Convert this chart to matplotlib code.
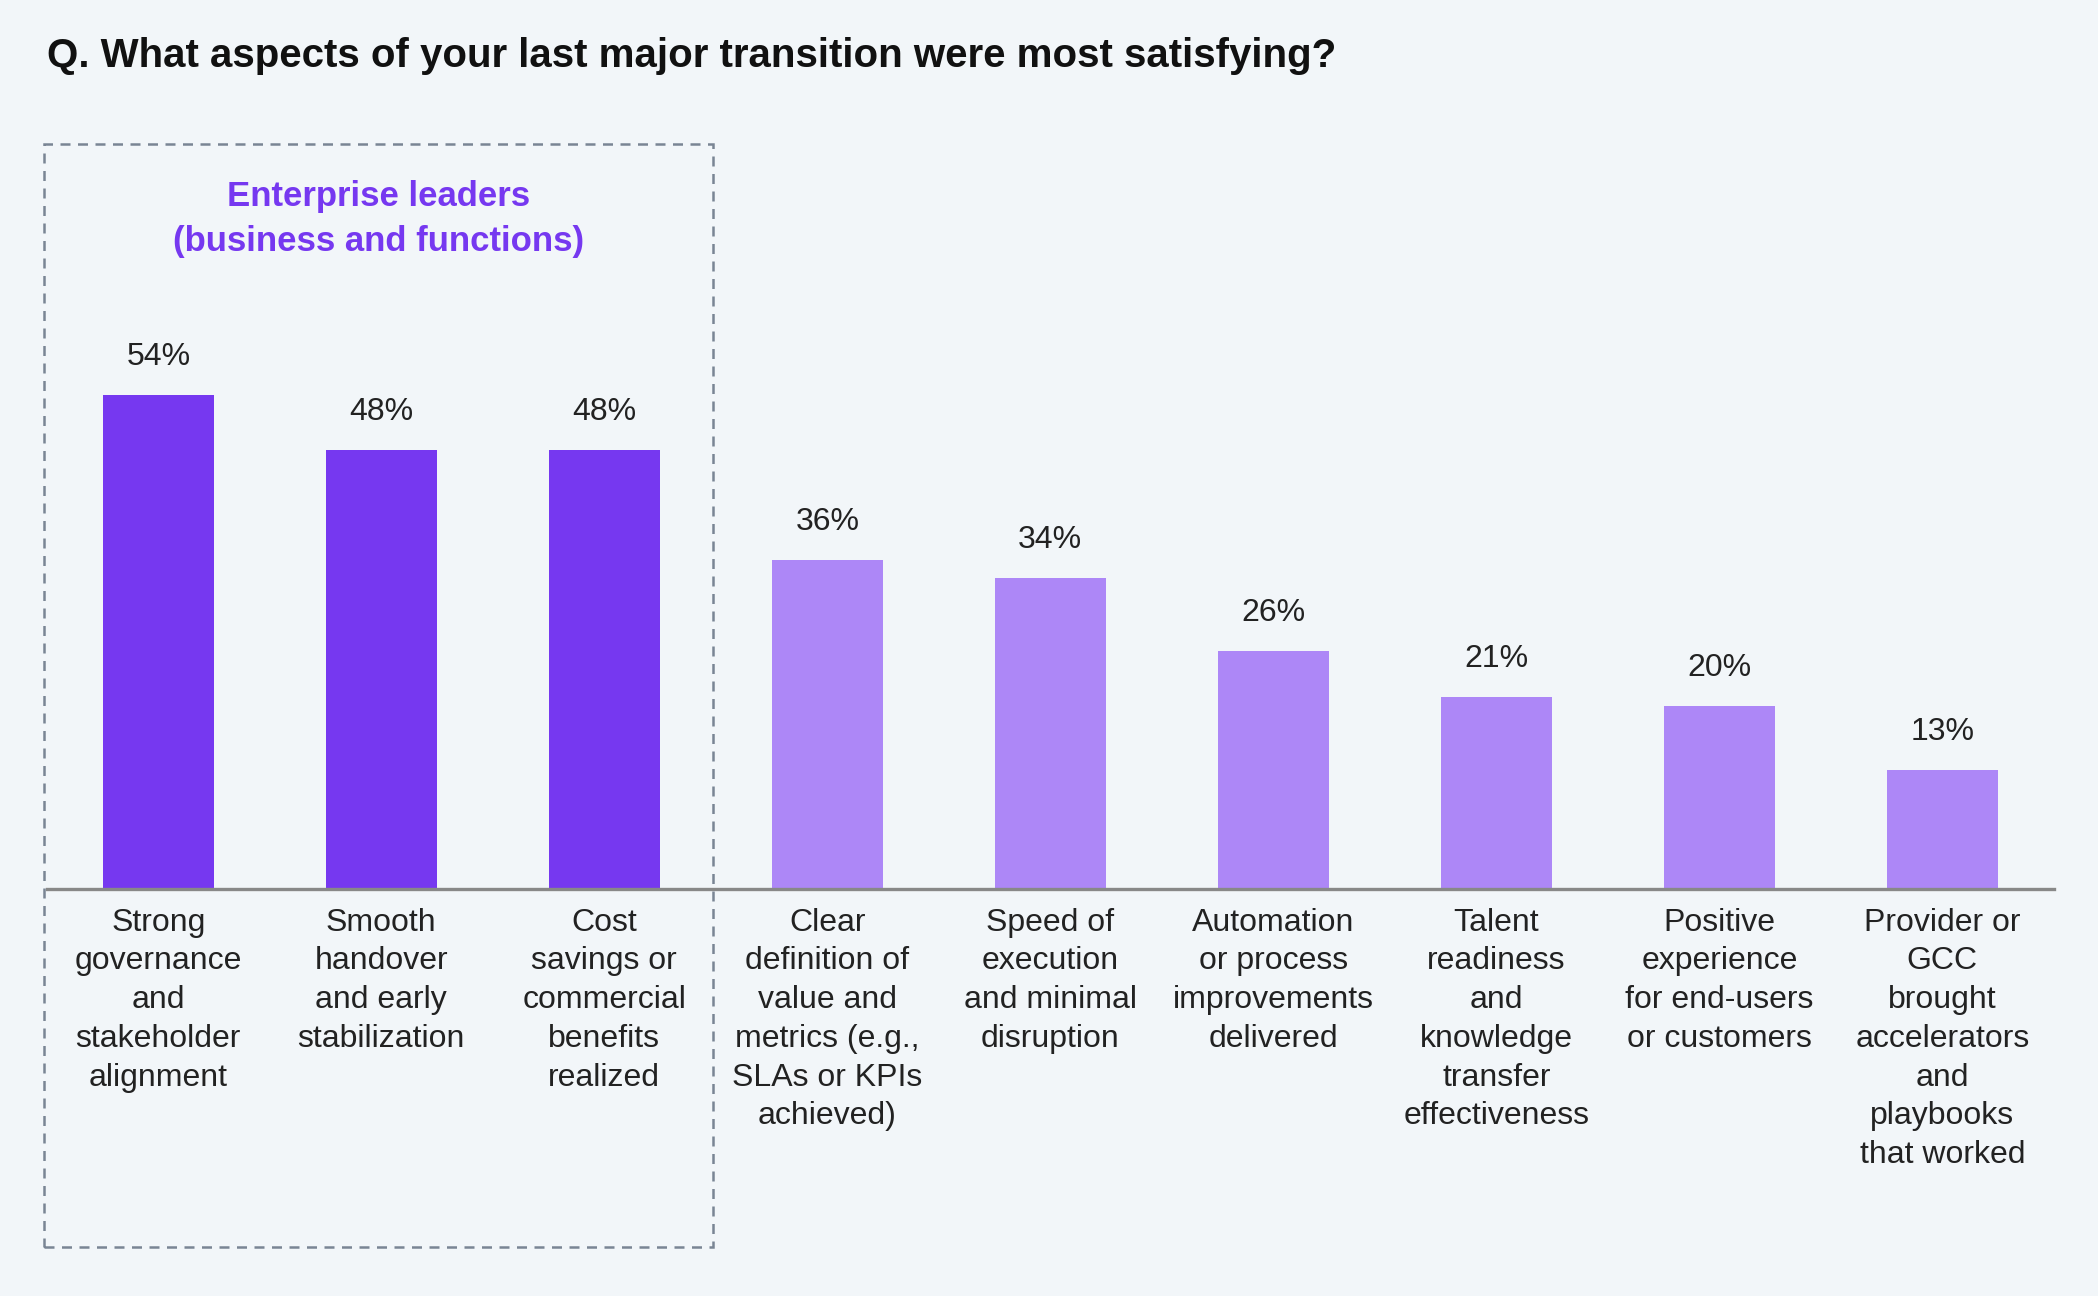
import matplotlib.pyplot as plt
from matplotlib.patches import Rectangle

categories = [
    "Strong\ngovernance\nand\nstakeholder\nalignment",
    "Smooth\nhandover\nand early\nstabilization",
    "Cost\nsavings or\ncommercial\nbenefits\nrealized",
    "Clear\ndefinition of\nvalue and\nmetrics (e.g.,\nSLAs or KPIs\nachieved)",
    "Speed of\nexecution\nand minimal\ndisruption",
    "Automation\nor process\nimprovements\ndelivered",
    "Talent\nreadiness\nand\nknowledge\ntransfer\neffectiveness",
    "Positive\nexperience\nfor end-users\nor customers",
    "Provider or\nGCC\nbrought\naccelerators\nand\nplaybooks\nthat worked",
]
values = [54, 48, 48, 36, 34, 26, 21, 20, 13]
highlighted = 3

DARK = "#7638F0"
LIGHT = "#AD87F7"
BG = "#F2F6F9"

plt.rcParams["font.family"] = ["Liberation Sans", "DejaVu Sans"]

fig = plt.figure(figsize=(10.49, 6.48), dpi=200, facecolor=BG)
ax = fig.add_axes([35 / 1568, 1 - 665 / 969, 1500 / 1568, 411 / 969])
ax.set_facecolor(BG)

x = range(len(values))
colors = [DARK if i < highlighted else LIGHT for i in x]
ax.bar(x, values, width=0.5, color=colors)
for i, v in zip(x, values):
    ax.text(i, v + 2.5, f"{v}%", ha="center", va="bottom", fontsize=11.5, color="#222222")
    ax.text(i, -2, categories[i], ha="center", va="top", fontsize=11.5,
            color="#222222", linespacing=1.38)

ax.set_xlim(-0.5, len(values) - 0.5)
ax.set_ylim(0, 60)
for s in ["top", "right", "left"]:
    ax.spines[s].set_visible(False)
ax.spines["bottom"].set_color("#888888")
ax.spines["bottom"].set_linewidth(1.2)
ax.set_xticks([])
ax.set_yticks([])

fig.text(35 / 1568, 1 - 42 / 969, "Q. What aspects of your last major transition were most satisfying?",
         fontsize=14.5, fontweight="bold", va="center", ha="left", color="#111111")

fig.patches.append(Rectangle((33 / 1568, 1 - 932 / 969), 500 / 1568, 824 / 969,
                             transform=fig.transFigure, fill=False, edgecolor="#7A8594",
                             linestyle=(0, (4, 3)), linewidth=0.9))
fig.text(283 / 1568, 1 - 164 / 969, "Enterprise leaders\n(business and functions)",
         fontsize=12.5, fontweight="bold", color=DARK, ha="center", va="center",
         linespacing=1.45)

fig.savefig("out.png", dpi=200, facecolor=BG)
